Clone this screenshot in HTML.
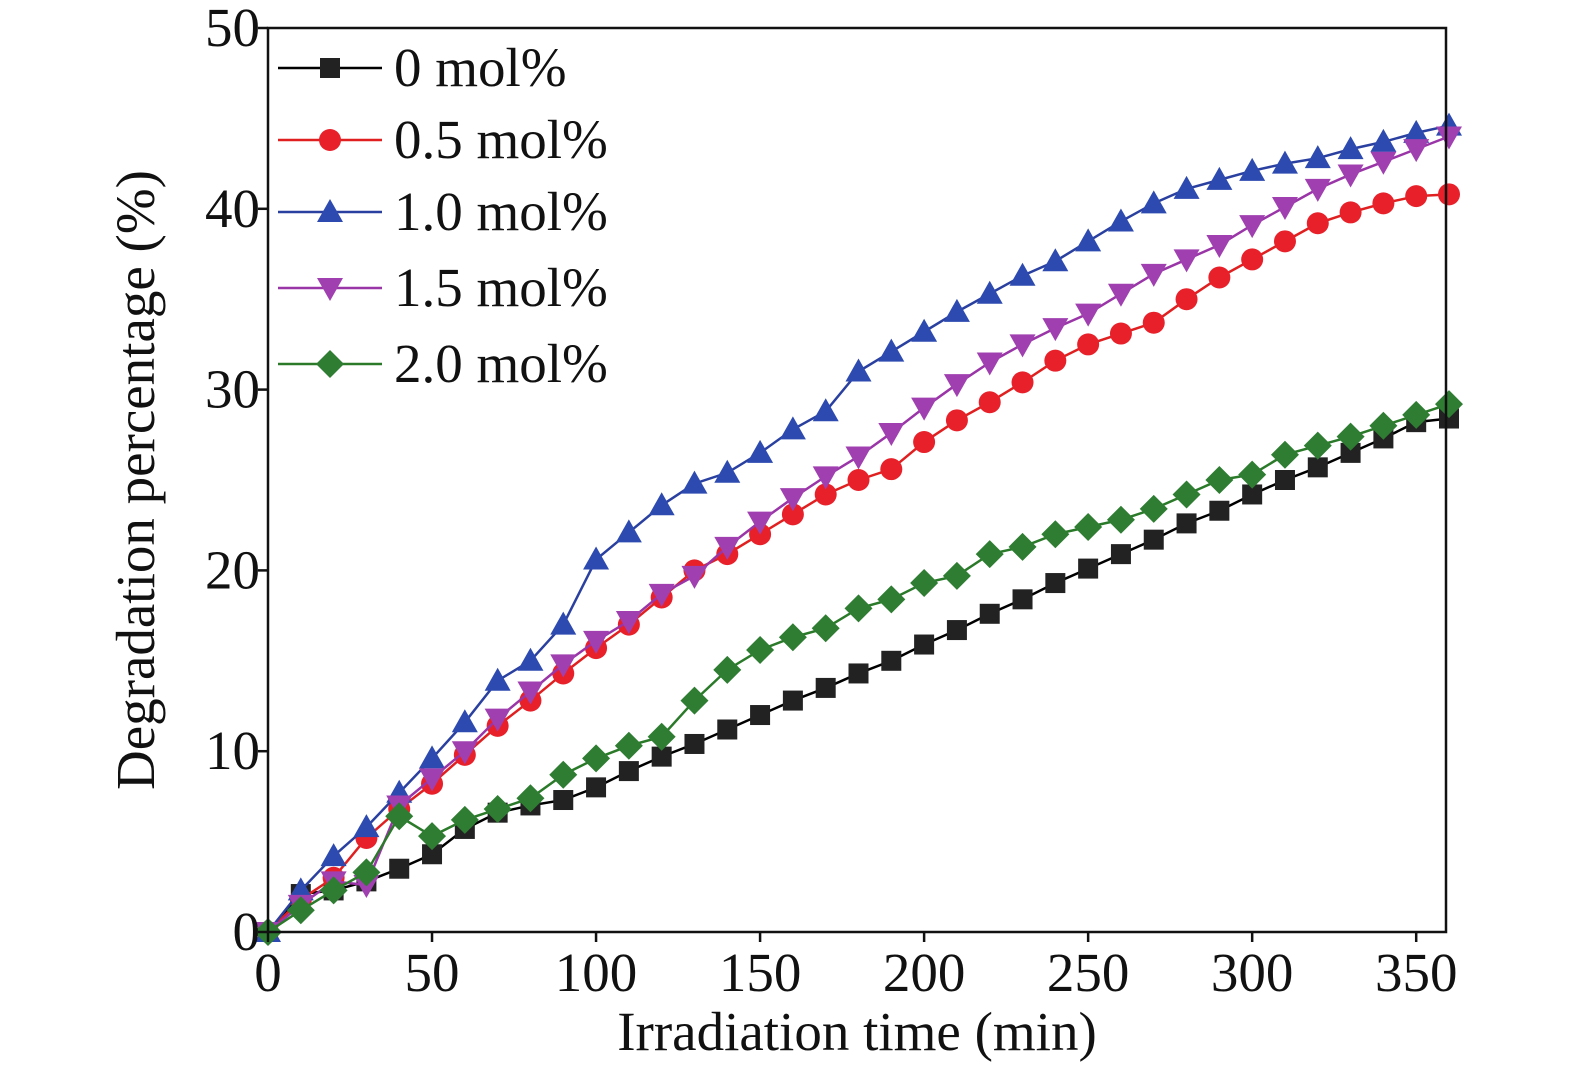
<!DOCTYPE html>
<html><head><meta charset="utf-8"><style>
html,body{margin:0;padding:0;background:#fff;width:1575px;height:1071px;overflow:hidden}
svg text{font-family:"Liberation Serif",serif;fill:#111}
</style></head><body>
<svg id="chart" width="1575" height="1071" xmlns="http://www.w3.org/2000/svg"></svg>
<script>
const times=[0,10,20,30,40,50,60,70,80,90,100,110,120,130,140,150,160,170,180,190,200,210,220,230,240,250,260,270,280,290,300,310,320,330,340,350,360];
const s0=[0,2.1,2.3,2.8,3.5,4.3,5.7,6.6,7.0,7.3,8.0,8.9,9.7,10.4,11.2,12.0,12.8,13.5,14.3,15.0,15.9,16.7,17.6,18.4,19.3,20.1,20.9,21.7,22.6,23.3,24.2,25.0,25.7,26.5,27.3,28.2,28.4];
const s05=[0,1.8,3.0,5.2,6.8,8.2,9.8,11.4,12.8,14.3,15.7,17.0,18.5,20.0,20.9,22.0,23.1,24.2,25.0,25.6,27.1,28.3,29.3,30.4,31.6,32.5,33.1,33.7,35.0,36.2,37.2,38.2,39.2,39.8,40.3,40.7,40.8];
const s10=[0,2.3,4.2,5.8,7.7,9.6,11.6,13.9,15.0,17.0,20.6,22.1,23.6,24.8,25.4,26.5,27.8,28.8,31.0,32.1,33.2,34.3,35.3,36.3,37.1,38.2,39.3,40.3,41.1,41.6,42.1,42.5,42.8,43.3,43.7,44.2,44.6];
const s15=[0,1.5,2.8,2.6,7.0,8.5,10.0,11.8,13.3,14.8,16.1,17.2,18.7,19.7,21.3,22.7,24.0,25.2,26.3,27.6,29.0,30.3,31.5,32.5,33.4,34.2,35.3,36.4,37.2,38.0,39.1,40.1,41.1,41.9,42.6,43.3,44.0];
const s20=[0,1.2,2.3,3.3,6.4,5.3,6.2,6.8,7.4,8.7,9.6,10.3,10.8,12.8,14.5,15.6,16.3,16.8,17.9,18.4,19.3,19.7,20.9,21.3,22.0,22.4,22.8,23.4,24.2,25.0,25.3,26.4,26.9,27.4,28.0,28.6,29.2];
const xTicks=[0,50,100,150,200,250,300,350];
const yTicks=[0,10,20,30,40,50];
const labels=["0 mol%","0.5 mol%","1.0 mol%","1.5 mol%","2.0 mol%"];
const L=268,R=1446,T=28,B=932;
const X=v=>L+v*(1449-L)/360, Y=v=>B-v*(B-T)/50;
const svg=document.getElementById('chart');
const NS="http://www.w3.org/2000/svg";
function mk(tag,attrs,parent){const e=document.createElementNS(NS,tag);for(const k in attrs)e.setAttribute(k,attrs[k]);(parent||svg).appendChild(e);return e;}
const series=[{d:s0,c:"#000",m:"sq",fc:"#222"},{d:s05,c:"#e02020",m:"ci",fc:"#e8202a"},{d:s10,c:"#2a40a0",m:"tu",fc:"#2d4ab0"},{d:s15,c:"#9a35a8",m:"td",fc:"#a040b0"},{d:s20,c:"#2a7a2a",m:"di",fc:"#2e7d32"}];
function marker(type,x,y,fc,g){
  let e;
  if(type=="sq") e=mk('rect',{x:x-10,y:y-10,width:20,height:20,fill:fc},g);
  else if(type=="ci") e=mk('circle',{cx:x,cy:y,r:11,fill:fc},g);
  else if(type=="tu") e=mk('polygon',{points:`${x},${y-13} ${x-13},${y+10} ${x+13},${y+10}`,fill:fc},g);
  else if(type=="td") e=mk('polygon',{points:`${x},${y+13} ${x-13},${y-10} ${x+13},${y-10}`,fill:fc},g);
  else e=mk('polygon',{points:`${x},${y-14} ${x+14},${y} ${x},${y+14} ${x-14},${y}`,fill:fc},g);
  
  
}
series.forEach((s,i)=>{
  const g=mk('g',{});
  
  
  const pts=s.d.map((v,j)=>X(times[j])+','+Y(v)).join(' ');
  const pl=mk('polyline',{points:pts,fill:'none',stroke:s.c,'stroke-width':2.5},g);
  
  
  s.d.forEach((v,j)=>marker(s.m,X(times[j]),Y(v),s.fc,g));
});
const fr=mk('rect',{x:L,y:T,width:R-L,height:B-T,fill:'none',stroke:'#111','stroke-width':2.5});


xTicks.forEach(t=>{
  mk('line',{x1:X(t),x2:X(t),y1:B,y2:B+10,stroke:'#111','stroke-width':2.5});
  const tx=mk('text',{x:X(t),y:B+59,'font-size':55,'text-anchor':'middle'});tx.textContent=t;
  
  
});
yTicks.forEach(t=>{
  mk('line',{x1:L-10,x2:L,y1:Y(t),y2:Y(t),stroke:'#111','stroke-width':2.5});
  const tx=mk('text',{x:L-8,y:Y(t)+18,'font-size':55,'text-anchor':'end'});tx.textContent=t;
  
  
});
const xt=mk('text',{x:857,y:1050,'font-size':55,'text-anchor':'middle'});xt.textContent="Irradiation time (min)";


const yt=mk('text',{x:0,y:0,'font-size':55,'text-anchor':'middle',transform:'translate(154,480) rotate(-90)'});yt.textContent="Degradation percentage (%)";


const ly=[68,140,212,288,364];
series.forEach((s,i)=>{
  const g=mk('g',{});
  
  
  mk('line',{x1:278,x2:382,y1:ly[i],y2:ly[i],stroke:s.c,'stroke-width':2.5},g);
  marker(s.m,330,ly[i],s.fc,g);
  const t=mk('text',{x:394,y:ly[i]+18,'font-size':55},g);t.textContent=labels[i];
});
</script>
</body></html>
